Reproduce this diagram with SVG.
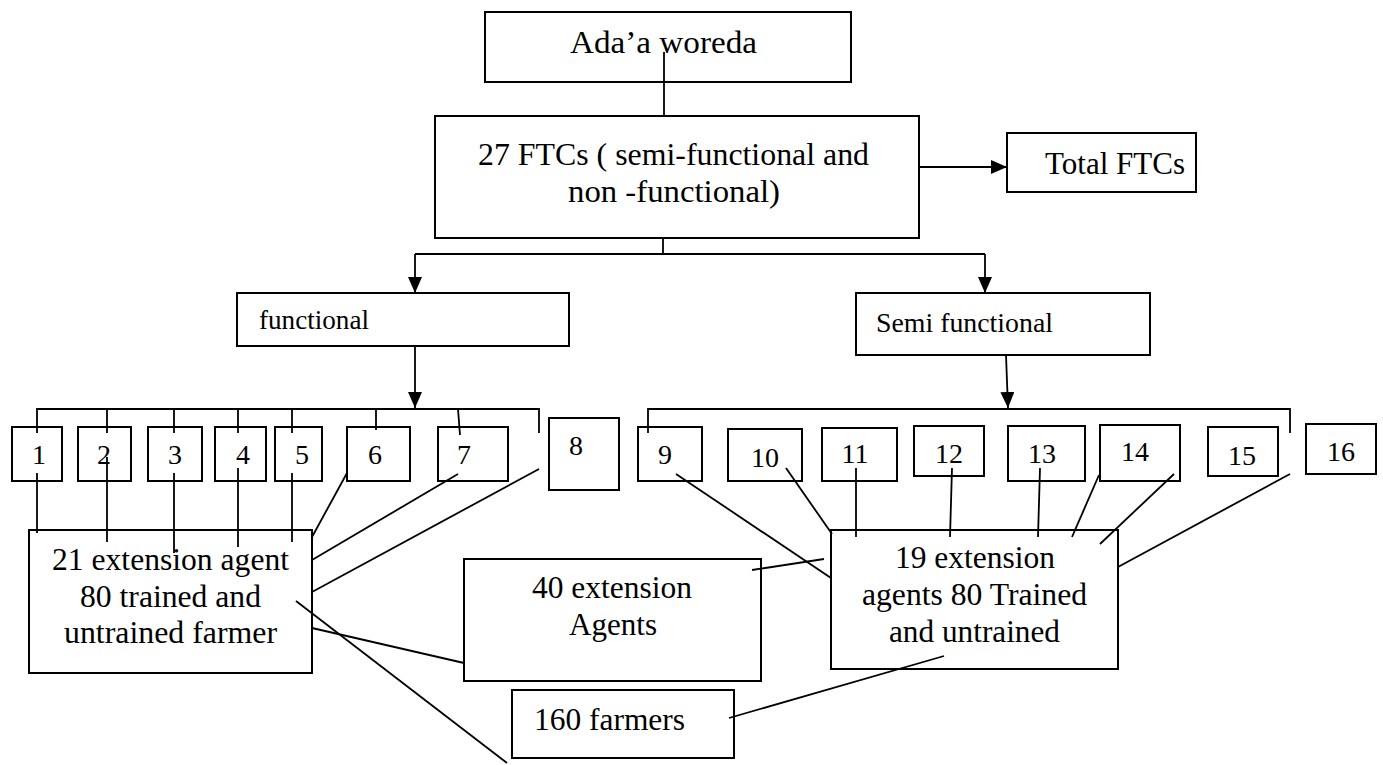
<svg xmlns="http://www.w3.org/2000/svg" width="1383" height="765" viewBox="0 0 1383 765">
<style>
.box{fill:#fff;stroke:#000;stroke-width:2}
.t,.n,.s{font-family:'Liberation Serif','Times New Roman',Tinos,'Nimbus Roman','Nimbus Roman No9 L',FreeSerif,'DejaVu Serif','Noto Serif',Times,serif;fill:#000}
.t{font-size:32px}
.n{font-size:28px;text-anchor:middle}
.s{font-size:27px}
.c{fill:none;stroke:#000;stroke-width:1.8}
</style>
<defs>
<marker id="ah" markerWidth="16" markerHeight="14" refX="16" refY="7" orient="auto" markerUnits="userSpaceOnUse"><path d="M0,0 L16,7 L0,14 z" fill="#000"/></marker>
</defs>
<rect width="1383" height="765" fill="#fff"/>

<g id="ada">
<rect class="box" x="485" y="12" width="366" height="70"/>
<text class="t" x="570" y="53" textLength="187" lengthAdjust="spacingAndGlyphs">Ada’a woreda</text>
</g>
<g id="ftcs">
<rect class="box" x="435" y="116" width="484" height="122"/>
<text class="t" x="478" y="165" textLength="391" lengthAdjust="spacingAndGlyphs">27 FTCs ( semi-functional and</text>
<text class="t" x="568" y="202" textLength="212" lengthAdjust="spacingAndGlyphs">non -functional)</text>
</g>
<g id="total">
<rect class="box" x="1007" y="133" width="189" height="59"/>
<text class="t" x="1045" y="174" textLength="140" lengthAdjust="spacingAndGlyphs">Total FTCs</text>
</g>
<g id="functional">
<rect class="box" x="237" y="293" width="332" height="53"/>
<text class="s" x="259" y="329" textLength="110" lengthAdjust="spacingAndGlyphs">functional</text>
</g>
<g id="semi">
<rect class="box" x="856" y="293" width="294" height="62"/>
<text class="s" x="876" y="332" textLength="177" lengthAdjust="spacingAndGlyphs">Semi functional</text>
</g>

<g id="n1"><rect class="box" x="12" y="427" width="50" height="54"/><text class="n" x="39" y="464">1</text></g>
<g id="n2"><rect class="box" x="78" y="427" width="53" height="54"/><text class="n" x="104" y="464">2</text></g>
<g id="n3"><rect class="box" x="148" y="427" width="54" height="54"/><text class="n" x="175" y="464">3</text></g>
<g id="n4"><rect class="box" x="215" y="427" width="51" height="54"/><text class="n" x="243" y="464">4</text></g>
<g id="n5"><rect class="box" x="275" y="427" width="47" height="54"/><text class="n" x="302" y="464">5</text></g>
<g id="n6"><rect class="box" x="347" y="427" width="63" height="54"/><text class="n" x="375" y="464">6</text></g>
<g id="n7"><rect class="box" x="438" y="427" width="70" height="54"/><text class="n" x="464" y="464">7</text></g>
<g id="n8"><rect class="box" x="549" y="418" width="70" height="72"/><text class="n" x="576" y="455">8</text></g>
<g id="n9"><rect class="box" x="638" y="427" width="64" height="54"/><text class="n" x="665" y="464">9</text></g>
<g id="n10"><rect class="box" x="728" y="429" width="74" height="52"/><text class="n" x="765" y="467">10</text></g>
<g id="n11"><rect class="box" x="822" y="428" width="75" height="53"/><text class="n" x="855" y="463">11</text></g>
<g id="n12"><rect class="box" x="914" y="426" width="70" height="50"/><text class="n" x="949" y="463">12</text></g>
<g id="n13"><rect class="box" x="1008" y="426" width="77" height="55"/><text class="n" x="1042" y="463">13</text></g>
<g id="n14"><rect class="box" x="1100" y="425" width="80" height="56"/><text class="n" x="1135" y="461">14</text></g>
<g id="n15"><rect class="box" x="1208" y="427" width="70" height="49"/><text class="n" x="1242" y="465">15</text></g>
<g id="n16"><rect class="box" x="1306" y="424" width="70" height="50"/><text class="n" x="1341" y="461">16</text></g>

<g id="left-agents">
<rect class="box" x="29" y="530" width="283" height="143"/>
<text class="t" x="52" y="570" textLength="237" lengthAdjust="spacingAndGlyphs">21 extension agent</text>
<text class="t" x="80" y="607" textLength="181" lengthAdjust="spacingAndGlyphs">80 trained and</text>
<text class="t" x="64" y="643" textLength="213" lengthAdjust="spacingAndGlyphs">untrained farmer</text>
</g>
<g id="agents40">
<rect class="box" x="464" y="559" width="297" height="122"/>
<text class="t" x="532" y="598" textLength="160" lengthAdjust="spacingAndGlyphs">40 extension</text>
<text class="t" x="569" y="635" textLength="88" lengthAdjust="spacingAndGlyphs">Agents</text>
</g>
<g id="farmers160">
<rect class="box" x="512" y="690" width="222" height="68"/>
<text class="t" x="534" y="730" textLength="151" lengthAdjust="spacingAndGlyphs">160 farmers</text>
</g>
<g id="right-agents">
<rect class="box" x="831" y="530" width="287" height="139"/>
<text class="t" x="895" y="568" textLength="160" lengthAdjust="spacingAndGlyphs">19 extension</text>
<text class="t" x="862" y="605" textLength="225" lengthAdjust="spacingAndGlyphs">agents 80 Trained</text>
<text class="t" x="889" y="642" textLength="171" lengthAdjust="spacingAndGlyphs">and untrained</text>
</g>

<g id="connectors">
<line class="c" x1="664" y1="52" x2="664" y2="116"/>
<line class="c" x1="919" y1="167" x2="1007" y2="167" marker-end="url(#ah)"/>
<polyline class="c" points="663,238 663,254"/>
<polyline class="c" points="415,254 985,254"/>
<line class="c" x1="415" y1="254" x2="415" y2="293" marker-end="url(#ah)"/>
<line class="c" x1="985" y1="254" x2="985" y2="293" marker-end="url(#ah)"/>
<line class="c" x1="415" y1="346" x2="415" y2="408" marker-end="url(#ah)"/>
<line class="c" x1="1006" y1="355" x2="1008" y2="408" marker-end="url(#ah)"/>
<polyline class="c" points="37,433 37,409 539,409 539,433"/>
<line class="c" x1="107" y1="409" x2="107" y2="433"/>
<line class="c" x1="174" y1="409" x2="174" y2="433"/>
<line class="c" x1="238" y1="409" x2="238" y2="433"/>
<line class="c" x1="292" y1="409" x2="292" y2="433"/>
<line class="c" x1="376" y1="409" x2="376" y2="430"/>
<line class="c" x1="458" y1="409" x2="460" y2="435"/>
<polyline class="c" points="648,433 648,409 1290,409 1290,433"/>
<line class="c" x1="37" y1="473" x2="37" y2="533"/>
<line class="c" x1="107" y1="457" x2="107" y2="542"/>
<line class="c" x1="174" y1="473" x2="174" y2="553"/>
<line class="c" x1="238" y1="468" x2="238" y2="547"/>
<line class="c" x1="292" y1="473" x2="292" y2="542"/>
<line class="c" x1="347" y1="473" x2="312" y2="537"/>
<line class="c" x1="458" y1="474" x2="312" y2="560"/>
<line class="c" x1="539" y1="469" x2="312" y2="592"/>
<line class="c" x1="312" y1="628" x2="464" y2="663"/>
<line class="c" x1="296" y1="601" x2="507" y2="763"/>
<line class="c" x1="752" y1="570" x2="824" y2="559"/>
<line class="c" x1="729" y1="718" x2="944" y2="656"/>
<line class="c" x1="676" y1="474" x2="831" y2="578"/>
<line class="c" x1="786" y1="468" x2="832" y2="534"/>
<line class="c" x1="856" y1="468" x2="856" y2="537"/>
<line class="c" x1="952" y1="468" x2="950" y2="537"/>
<line class="c" x1="1040" y1="468" x2="1038" y2="537"/>
<line class="c" x1="1099" y1="475" x2="1072" y2="537"/>
<line class="c" x1="1174" y1="474" x2="1100" y2="544"/>
<line class="c" x1="1290" y1="474" x2="1118" y2="567"/>
</g>
</svg>
